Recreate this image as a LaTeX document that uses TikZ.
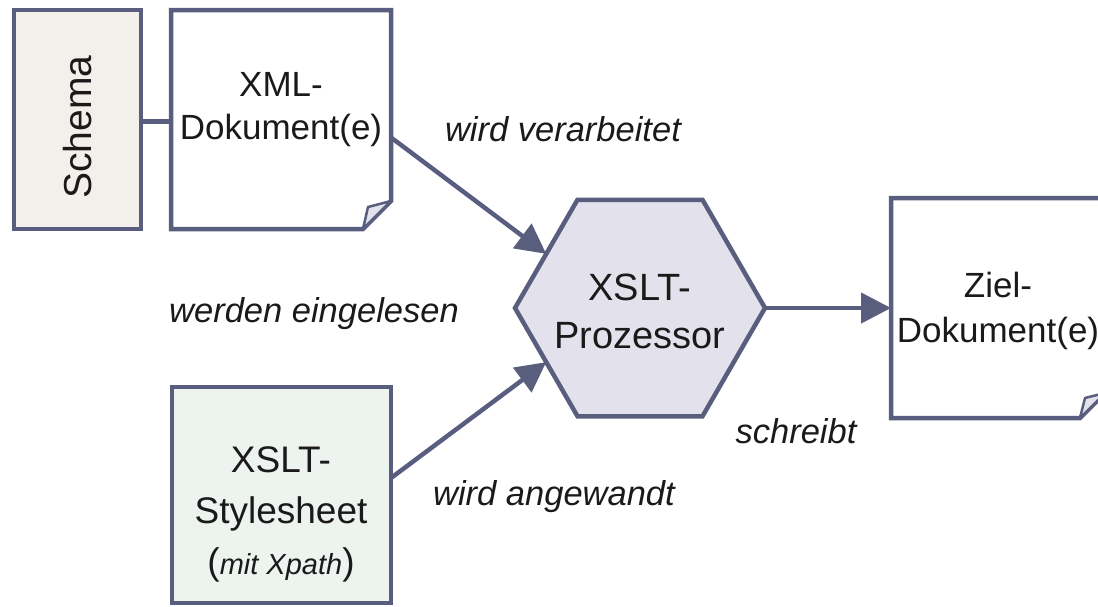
\documentclass[tikz,border=0pt]{standalone}
\usepackage{fontspec}
\setmainfont{Liberation Sans}
\usetikzlibrary{arrows.meta,shapes.geometric}
\definecolor{edge}{HTML}{5A5E7E}
\definecolor{schemafill}{HTML}{F3EFEA}
\definecolor{hexfill}{HTML}{E3E2EC}
\definecolor{xslfill}{HTML}{EDF3EE}
\definecolor{ink}{HTML}{1A1A1A}
\tikzset{
  boxline/.style={draw=edge,line width=4.5pt,line join=miter},
  plainbox/.style={boxline,rectangle,inner sep=0pt,outer sep=0pt},
  docbox/.style={rectangle,inner sep=0pt,outer sep=0pt},
  boxtext/.style={text=ink,align=center,inner sep=0pt},
  lbl/.style={text=ink,inner sep=0pt,font=\fontsize{34.5}{40}\selectfont\itshape},
  conn/.style={draw=edge,line width=4.5pt},
  arr/.style={conn,-{Triangle[length=30pt,width=30pt]}},
}
\begin{document}
\begin{tikzpicture}[x=1pt,y=-1pt]
\useasboundingbox (0,0) rectangle (1098,606);
% Schema
\node[plainbox,fill=schemafill,minimum width=127pt,minimum height=219pt] (schema) at (77.5,119.5) {};
\node[boxtext,rotate=90,font=\fontsize{39}{46}\selectfont] (schemat) at (78,127) {Schema};
% XML document
\node[docbox,minimum width=220pt,minimum height=219pt] (xml) at (281,119.5) {};
\draw[boxline,fill=white] (xml.north west) -- (xml.north east) -- ([yshift=28pt]xml.south east) -- ([xshift=-28pt]xml.south east) -- (xml.south west) -- cycle;
\draw[draw=edge,line width=2.5pt,fill=hexfill,line join=round] ([xshift=-28pt]xml.south east) -- ([xshift=-23pt,yshift=22pt]xml.south east) -- ([yshift=28pt]xml.south east) -- cycle;
\node[boxtext,font=\fontsize{35}{43}\selectfont] (xmlt) at (281,110) {XML-\\Dokument(e)};
% Stylesheet
\node[plainbox,fill=xslfill,minimum width=219pt,minimum height=216pt] (xsl) at (281.5,495) {};
\node[boxtext,font=\fontsize{37}{51}\selectfont] (xslt) at (281,514) {XSLT-\\Stylesheet\\({\fontsize{29}{34}\selectfont\itshape mit Xpath})};
% Processor
\node[boxline,fill=hexfill,regular polygon,regular polygon sides=6,minimum size=250pt,inner sep=0pt,outer sep=0pt] (hex) at (640,308) {};
\node[boxtext,font=\fontsize{38}{48}\selectfont] (hext) at (640,311) {XSLT-\\Prozessor};
% Target document
\node[docbox,minimum width=214pt,minimum height=220pt] (ziel) at (998,308) {};
\draw[boxline,fill=white] (ziel.north west) -- (ziel.north east) -- ([yshift=25pt]ziel.south east) -- ([xshift=-25pt]ziel.south east) -- (ziel.south west) -- cycle;
\draw[draw=edge,line width=2.5pt,fill=hexfill,line join=round] ([xshift=-25pt]ziel.south east) -- ([xshift=-20pt,yshift=20pt]ziel.south east) -- ([yshift=25pt]ziel.south east) -- cycle;
\node[boxtext,font=\fontsize{35}{45}\selectfont] (zielt) at (998,311) {Ziel-\\Dokument(e)};
% connectors
\draw[conn] ([yshift=-2pt]schema.east) -- ([yshift=-2pt]xml.west);
\draw[arr] ([yshift=-18pt]xml.east) -- (hex.150);
\draw[arr] ([yshift=17pt]xsl.east) -- (hex.210);
\draw[arr] (hex.east) -- (ziel.west);
% labels
\node[lbl,anchor=base] (l1) at (563,141) {wird verarbeitet};
\node[lbl,anchor=base] (l2) at (314,322) {werden eingelesen};
\node[lbl,anchor=base] (l3) at (796,443) {schreibt};
\node[lbl,anchor=base] (l4) at (554,505) {wird angewandt};
\end{tikzpicture}
\end{document}
